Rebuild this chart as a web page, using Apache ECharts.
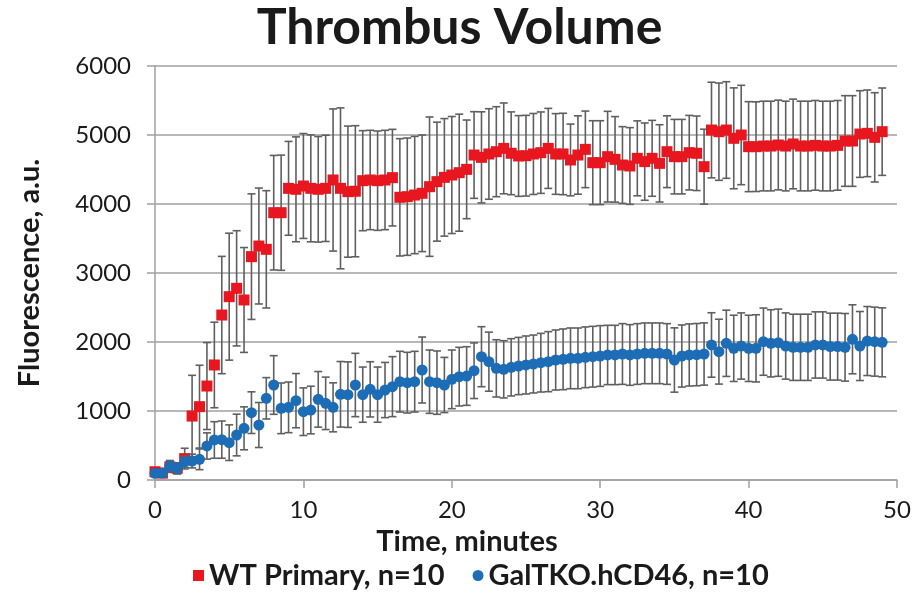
<!DOCTYPE html>
<html><head><meta charset="utf-8">
<script src="https://cdn.jsdelivr.net/npm/echarts@6/dist/echarts.min.js"></script>
<style>html,body{margin:0;padding:0;background:#fff}#c{width:919px;height:596px}</style>
</head><body><div id="c"></div>
<script>
const times = [0,0.5,1,1.5,2,2.5,3,3.5,4,4.5,
 5,5.5,6,6.5,7,7.5,8,8.5,9,9.5,
 10,10.5,11,11.5,12,12.5,13,13.5,14,14.5,
 15,15.5,16,16.5,17,17.5,18,18.5,19,19.5,
 20,20.5,21,21.5,22,22.5,23,23.5,24,24.5,
 25,25.5,26,26.5,27,27.5,28,28.5,29,29.5,
 30,30.5,31,31.5,32,32.5,33,33.5,34,34.5,
 35,35.5,36,36.5,37,37.5,38,38.5,39,39.5,
 40,40.5,41,41.5,42,42.5,43,43.5,44,44.5,
 45,45.5,46,46.5,47,47.5,48,48.5,49];
const wtMean = [120,100,190,170,310,927,1063,1362,1667,2391,
 2657,2778,2609,3237,3391,3343,3874,3874,4227,4213,
 4261,4227,4213,4227,4348,4227,4179,4185,4338,4348,
 4338,4348,4382,4097,4106,4130,4155,4251,4324,4386,
 4420,4454,4502,4710,4676,4725,4758,4806,4735,4696,
 4700,4725,4744,4806,4725,4725,4638,4710,4792,4599,
 4599,4686,4647,4565,4551,4662,4614,4662,4589,4758,
 4686,4686,4744,4735,4541,5072,5048,5072,4952,5000,
 4831,4831,4840,4840,4855,4840,4870,4840,4840,4850,
 4840,4840,4850,4913,4913,5014,5024,4966,5048];
const wtSD = [50,60,80,80,150,590,600,630,620,850,
 920,835,760,910,840,850,830,835,680,760,
 760,775,765,770,1030,1166,950,950,725,720,
 720,720,700,850,850,850,845,1010,862,852,
 848,848,715,628,660,656,652,658,600,585,
 585,587,590,580,585,590,520,568,555,608,
 608,657,620,556,556,543,560,550,560,520,
 540,540,540,540,543,693,705,700,731,720,
 652,650,650,650,650,650,650,650,650,650,
 650,650,650,657,657,628,628,647,633];
const koMean = [97,100,203,169,266,275,300,493,580,585,
 541,652,749,976,797,1184,1377,1039,1053,1150,
 990,1014,1169,1111,1053,1242,1237,1377,1237,1314,
 1237,1304,1353,1425,1411,1425,1594,1425,1411,1377,
 1459,1498,1507,1584,1787,1715,1618,1604,1633,1652,
 1667,1681,1700,1715,1739,1749,1763,1763,1778,1787,
 1797,1812,1812,1826,1812,1826,1836,1836,1836,1826,
 1739,1797,1812,1817,1826,1957,1860,1981,1908,1942,
 1908,1908,2005,1981,1990,1942,1923,1923,1923,1957,
 1957,1933,1933,1923,2039,1942,2014,2005,1995];
const koSD = [30,50,80,80,80,100,150,190,265,270,
 258,302,311,302,326,300,425,367,367,393,
 345,345,403,380,355,475,475,459,400,400,
 400,400,435,440,440,440,478,459,459,400,
 425,425,425,403,435,428,415,415,415,415,
 420,420,425,435,435,440,440,440,440,440,
 440,430,430,440,440,440,440,440,440,440,
 466,450,450,451,451,467,470,480,480,480,
 480,487,487,487,487,480,480,480,480,480,
 480,485,485,490,500,500,500,500,500];
const xTicks = [0,10,20,30,40,50];
const yTicks = [0,1000,2000,3000,4000,5000,6000];
const seriesNames = ['WT Primary, n=10','GalTKO.hCD46, n=10'];
const colors = ['#E8161E','#1C6DB5'];

const FONT = 'Lato';
function pts(m){ return times.map((t,i)=>[t,m[i]]); }
function bars(m,s){ return times.map((t,i)=>[t,m[i]-s[i],m[i]+s[i]]); }
function errItem(params, api){
  const x = api.value(0);
  const lo = api.coord([x, api.value(1)]);
  const hi = api.coord([x, api.value(2)]);
  const hw = 4;
  const st = {stroke:'#5f5f5f', lineWidth:1.6};
  return {type:'group', children:[
    {type:'line', shape:{x1:lo[0],y1:lo[1],x2:hi[0],y2:hi[1]}, style:st},
    {type:'line', shape:{x1:lo[0]-hw,y1:lo[1],x2:lo[0]+hw,y2:lo[1]}, style:st},
    {type:'line', shape:{x1:hi[0]-hw,y1:hi[1],x2:hi[0]+hw,y2:hi[1]}, style:st}
  ]};
}
const chart = echarts.init(document.getElementById('c'), null, {renderer:'canvas'});
chart.setOption({
  animation:false,
  backgroundColor:'#fff',
  title:{text:'Thrombus Volume', left:'center', top:-2,
    textStyle:{fontFamily:FONT, fontWeight:'bold', fontSize:50, color:'#1a1a1a'}},
  legend:{bottom:1, left:188, itemWidth:11, itemHeight:11, itemGap:28,
    data:[{name:seriesNames[0], icon:'rect'},{name:seriesNames[1], icon:'circle'}],
    textStyle:{fontFamily:FONT, fontWeight:'bold', fontSize:29, color:'#1a1a1a'}},
  grid:{left:155, right:22, top:66, bottom:116},
  xAxis:{type:'value', min:0, max:50, interval:10,
    name:'Time, minutes', nameLocation:'middle', nameGap:41,
    nameTextStyle:{fontFamily:FONT, fontWeight:'bold', fontSize:29, color:'#1a1a1a', padding:[0,118,0,0]},
    axisLine:{lineStyle:{color:'#a0a0a0', width:1.5}},
    axisTick:{show:true, length:8, lineStyle:{color:'#a0a0a0', width:1.5}},
    axisLabel:{fontFamily:FONT, fontSize:24, color:'#1a1a1a', margin:18},
    splitLine:{show:false}},
  yAxis:{type:'value', min:0, max:6000, interval:1000,
    name:'Fluorescence, a.u.', nameLocation:'middle', nameGap:111, nameRotate:90,
    nameTextStyle:{fontFamily:FONT, fontWeight:'bold', fontSize:29, color:'#1a1a1a'},
    axisLine:{show:true, lineStyle:{color:'#a0a0a0', width:1.5}},
    axisTick:{show:true, length:8, lineStyle:{color:'#a0a0a0', width:1.5}},
    axisLabel:{fontFamily:FONT, fontSize:24, color:'#1a1a1a', margin:24, formatter:v=>String(v)},
    splitLine:{show:true, lineStyle:{color:'#a0a0a0', width:1.5}}},
  series:[
    {type:'custom', name:seriesNames[0]+' err', renderItem:errItem, data:bars(wtMean,wtSD), z:2, silent:true},
    {type:'scatter', name:seriesNames[0], data:pts(wtMean), symbol:'rect', symbolSize:11,
      itemStyle:{color:colors[0], opacity:1}, z:3},
    {type:'custom', name:seriesNames[1]+' err', renderItem:errItem, data:bars(koMean,koSD), z:4, silent:true},
    {type:'scatter', name:seriesNames[1], data:pts(koMean), symbol:'circle', symbolSize:11,
      itemStyle:{color:colors[1], opacity:1}, z:5}
  ]
});
</script></body></html>
